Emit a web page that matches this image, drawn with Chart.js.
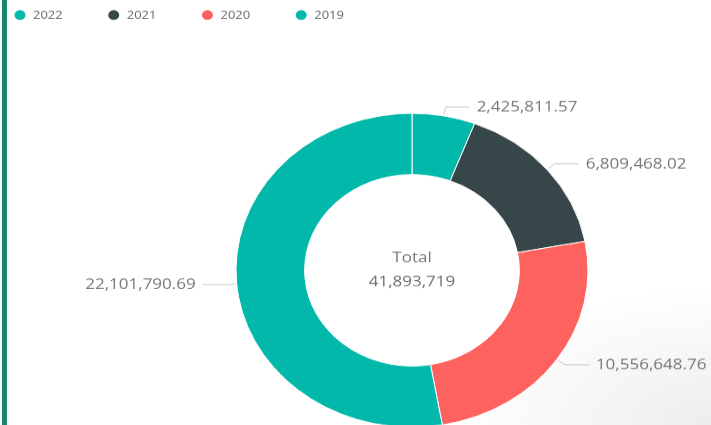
<!DOCTYPE html>
<html>
<head>
<meta charset="utf-8">
<script src="https://cdn.jsdelivr.net/npm/chart.js@4/dist/chart.umd.min.js"></script>
<style>
html,body{margin:0;padding:0;width:711px;height:425px;overflow:hidden;background:#fff;}
#frame{position:absolute;left:0;top:0;width:711px;height:425px;overflow:hidden;
  background:radial-gradient(ellipse 260px 140px at 711px 425px, rgba(0,0,0,0.07), rgba(0,0,0,0));}
#wrap{position:absolute;left:0;top:0;width:824px;height:606px;transform:scaleY(0.892);transform-origin:0 0;}
#bar{position:absolute;left:2px;top:0;width:5px;height:425px;background:#17876f;}
</style>
</head>
<body>
<div id="frame">
  <div id="wrap"><canvas id="c" width="824" height="606"></canvas></div>
  <div id="bar"></div>
</div>
<script>
// ---- data ----
const categories = ['2022', '2021', '2020', '2019'];
const values = [2425811.57, 6809468.02, 10556648.76, 22101790.69];
const colors = ['#01B8AA', '#374649', '#FD625E', '#01B8AA'];
const centerTitle = 'Total';

const FONT = '"Open Sans", "Segoe UI", "Noto Sans", sans-serif';
const fmt2 = v => v.toLocaleString('en-US', {minimumFractionDigits: 2, maximumFractionDigits: 2});
const fmt0 = v => v.toLocaleString('en-US', {maximumFractionDigits: 0});

const labelPlugin = {
  id: 'outLabels',
  afterDatasetsDraw(chart) {
    const ctx = chart.ctx;
    const meta = chart.getDatasetMeta(0);
    ctx.save();
    ctx.font = '17px ' + FONT;
    ctx.textBaseline = 'middle';
    meta.data.forEach((arc, i) => {
      const p = arc.getProps(['x', 'y', 'startAngle', 'endAngle', 'outerRadius'], true);
      const mid = (p.startAngle + p.endAngle) / 2;
      const c = Math.cos(mid), s = Math.sin(mid);
      const x0 = p.x + c * (p.outerRadius + 2), y0 = p.y + s * (p.outerRadius + 2);
      const x1 = p.x + c * (p.outerRadius + 10), y1 = p.y + s * (p.outerRadius + 10);
      const dir = c >= 0 ? 1 : -1;
      const x2 = x1 + dir * 24;
      ctx.strokeStyle = '#c4c4c4';
      ctx.lineWidth = 1;
      ctx.beginPath();
      ctx.moveTo(x0, y0);
      ctx.lineTo(x1, y1);
      ctx.lineTo(x2, y1);
      ctx.stroke();
      ctx.fillStyle = '#777777';
      ctx.textAlign = dir > 0 ? 'left' : 'right';
      ctx.fillText(fmt2(values[i]), x2 + dir * 7, y1);
    });
    // center text
    const a = meta.data[0];
    const total = values.reduce((t, v) => t + v, 0);
    ctx.textAlign = 'center';
    ctx.fillStyle = '#777777';
    ctx.fillText(centerTitle, a.x, a.y - 13.5);
    ctx.fillStyle = '#6e6e6e';
    ctx.fillText(fmt0(total), a.x, a.y + 13.5);
    ctx.restore();
  },
  afterDraw(chart) {
    // legend
    const ctx = chart.ctx;
    ctx.save();
    ctx.font = '13px ' + FONT;
    ctx.textBaseline = 'middle';
    ctx.textAlign = 'left';
    let cx = 20;
    const y = 16.8;
    categories.forEach((cat, i) => {
      ctx.fillStyle = colors[i];
      ctx.beginPath();
      ctx.arc(cx, y, 5.5, 0, Math.PI * 2);
      ctx.fill();
      ctx.fillStyle = '#666666';
      const tx = cx + 13;
      ctx.fillText(cat, tx, y);
      cx = tx + ctx.measureText(cat).width + 51;
    });
    ctx.restore();
  }
};

new Chart(document.getElementById('c'), {
  type: 'doughnut',
  data: {
    labels: categories,
    datasets: [{
      data: values,
      backgroundColor: colors,
      borderColor: '#ffffff',
      borderWidth: 1
    }]
  },
  options: {
    responsive: false,
    animation: false,
    events: [],
    radius: 176,
    cutout: '61%',
    layout: {padding: 0},
    plugins: {
      legend: {display: false},
      tooltip: {enabled: false}
    }
  },
  plugins: [labelPlugin]
});
</script>
</body>
</html>
